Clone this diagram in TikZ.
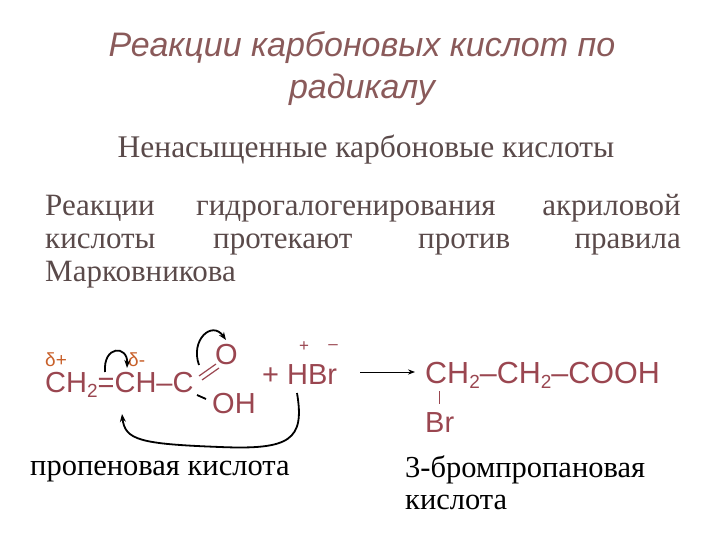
\documentclass[tikz,border=0pt]{standalone}
\usepackage{fontspec}
\setmainfont{Liberation Serif}
\newfontfamily\ar{Liberation Sans}
\usetikzlibrary{arrows.meta}
\definecolor{tit}{HTML}{8A5A5A}
\definecolor{chem}{HTML}{9A4650}
\definecolor{dl}{HTML}{C8602A}
\definecolor{txt}{HTML}{5A4A4A}
\newcommand{\sbs}[1]{\raisebox{-0.35ex}{\fontsize{19}{20}\selectfont #1}}
\begin{document}
\begin{tikzpicture}[x=1pt,y=-1pt,
 ttl/.style={font=\ar\itshape\fontsize{34}{38}\selectfont,text=tit},
 par/.style={font=\fontsize{31}{35}\selectfont,text=txt,inner sep=0,anchor=base west},
 ch/.style={font=\ar\fontsize{29}{32}\selectfont,text=chem,inner sep=0,anchor=base west},
 dt/.style={font=\ar\fontsize{19}{20}\selectfont,text=dl,inner sep=0,anchor=base west},
 lab/.style={font=\fontsize{30.5}{34}\selectfont,inner sep=0,anchor=base west},
 ar/.style={-{Stealth[length=8pt]},line width=1.8pt}]
\useasboundingbox (0,0) rectangle (720,540);
\node[ttl] (t1) at (362,48) {Реакции карбоновых кислот по};
\node[ttl] (t2) at (362,90) {радикалу};
\node[font=\fontsize{31.5}{35}\selectfont,text=txt] (h) at (366,150) {Ненасыщенные карбоновые кислоты};
\node[par] (w1) at (45,215) {Реакции};
\node[par] (w2) at (196,215) {гидрогалогенирования};
\node[par,anchor=base east] (w3) at (681,215) {акриловой};
\node[par] (w4) at (45,248) {кислоты};
\node[par] (w5) at (213,248) {протекают};
\node[par] (w6) at (418,248) {против};
\node[par,anchor=base east] (w7) at (681,248) {правила};
\node[par] (w8) at (45,281) {Марковникова};
% reactant
\node[dt] (d1) at (45,366) {δ+};
\node[dt] (d2) at (128,366) {δ-};
\node[ch] (r1) at (45,392) {CH\sbs{2}=CH–C};
\node[ch] (o1) at (215,364) {O};
\node[ch] (oh) at (212,413) {OH};
\draw[chem,line width=1.2pt] (199,376) -- (216,364);
\draw[chem,line width=1.2pt] (202,380) -- (219,368);
\draw[black,line width=1.8pt] (197,395) -- (206,399);
\node[ch] (hbr) at (262,384) {+ HBr};
\node[font=\ar\fontsize{17}{18}\selectfont,text=chem,inner sep=0] (pl) at (304,347) {+};
\node[font=\ar\fontsize{17}{18}\selectfont,text=chem,inner sep=0] (mi) at (333,347) {–};
% curved arrows
\coordinate (a1s) at (105,372);
\coordinate (a1e) at (127,368);
\draw[ar] (a1s) .. controls (103,345) and (128,345) .. (a1e);
\coordinate (a2s) at (199,365);
\coordinate (a2e) at (226,340);
\draw[ar] (a2s) .. controls (190,340) and (212,320) .. (a2e);
\coordinate (a3s) at (297,393);
\coordinate (a3e) at (122,414);
\draw[ar] (a3s) .. controls (305,440) and (290,450) .. (220,447) .. controls (140,444) and (125,440) .. (a3e);
% arrow
\coordinate (rs) at (360,372);
\coordinate (re) at (415,372);
\draw[-{Stealth[length=7pt]},line width=1pt] (rs) -- (re);
\node[ch,font=\ar\fontsize{30.5}{33}\selectfont] (p1) at (425,383) {CH\sbs{2}–CH\sbs{2}–COOH};
\draw[chem,line width=1pt] (439,391) -- (439,404);
\node[ch] (br) at (425,432) {Br};
\node[lab] (l1) at (30,475) {пропеновая кислота};
\node[lab] (l2) at (405,477) {3-бромпропановая};
\node[lab] (l3) at (405,509) {кислота};
\end{tikzpicture}
\end{document}
